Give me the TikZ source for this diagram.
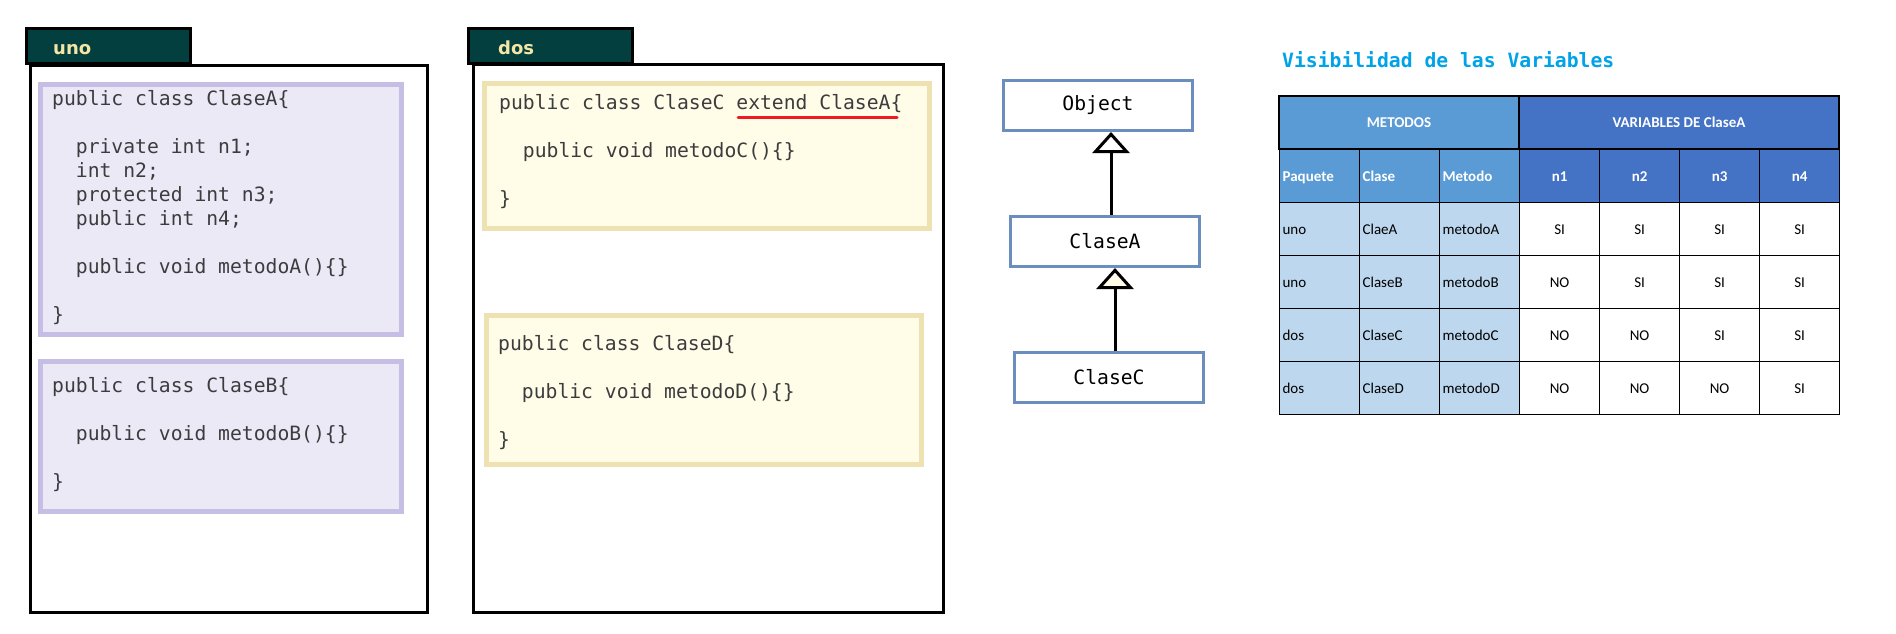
\documentclass[tikz,border=0pt]{standalone}
\usepackage{fontspec}
\usepackage{tikz}
\usetikzlibrary{calc}
\usetikzlibrary{matrix,arrows.meta}

\newfontfamily\codefont{DejaVu Sans Mono}
\newfontfamily\pkgfont{DejaVu Sans}
\newfontfamily\tabfont{Carlito}

\definecolor{tabteal}{RGB}{3,63,63}
\definecolor{tabtext}{RGB}{245,230,165}
\definecolor{lilaLine}{RGB}{198,190,228}
\definecolor{lilaFill}{RGB}{236,233,247}
\definecolor{cremaLine}{RGB}{238,226,178}
\definecolor{cremaFill}{RGB}{255,253,232}
\definecolor{codeGray}{RGB}{60,60,62}
\definecolor{umlBlue}{RGB}{108,142,191}
\definecolor{titleBlue}{RGB}{0,162,232}
\definecolor{metBlue}{RGB}{91,155,213}
\definecolor{varBlue}{RGB}{68,114,196}
\definecolor{cellBlue}{RGB}{189,215,238}
\definecolor{markRed}{RGB}{237,28,36}

\begin{document}
\begin{tikzpicture}[x=1pt,y=-1pt,
    pkgbox/.style={rectangle, draw=black, line width=3pt, fill=white, inner sep=0pt},
    pkgtab/.style={rectangle, draw=black, line width=3pt, fill=tabteal, minimum width=164pt, minimum height=35pt},
    pkglabel/.style={inner sep=0pt, text=tabtext, font=\pkgfont\bfseries\fontsize{18}{18}\selectfont},
    lilabox/.style={rectangle, draw=lilaLine, fill=lilaFill, line width=5pt},
    cremabox/.style={rectangle, draw=cremaLine, fill=cremaFill, line width=5pt},
    codetext/.style={inner sep=0pt, align=left, text=codeGray, font=\codefont\fontsize{19.7}{24}\selectfont},
    umlbox/.style={rectangle, draw=umlBlue, line width=3pt, fill=white, minimum width=189pt, minimum height=50pt, font=\codefont\fontsize{19.7}{24}\selectfont},
    inherit/.style={line width=3pt, -{Triangle[open, fill=white, length=21pt, width=37pt]}},
    cell/.style={rectangle, anchor=center, draw=black, line width=1.2pt, outer sep=0pt, minimum height=53pt,
      text height=10pt, text depth=0pt, font=\tabfont\fontsize{15}{18}\selectfont},
    leftcell/.style={cell, fill=cellBlue, text width=74pt, inner xsep=3pt, align=left},
    midcell/.style={cell, fill=white, minimum width=80pt, inner xsep=0pt},
    hdrL/.style={fill=metBlue, text=white, font=\tabfont\bfseries\fontsize{15}{18}\selectfont},
    hdrD/.style={fill=varBlue, text=white, font=\tabfont\bfseries\fontsize{15}{18}\selectfont}
    ]
  \path[use as bounding box, fill=white] (0,0) rectangle (1896,634);

  % package uno
  \node[pkgbox, minimum width=397pt, minimum height=547pt] (unoBox) at (229,339) {};
  \node[pkgtab] (unoTab) at (108.5,46) {};
  \node[pkglabel, anchor=base west] (unoLbl) at ($(unoTab.south west)+(28,-10)$) {uno};
  \node[lilabox, minimum width=361pt, minimum height=250pt] (claseA) at (221,209.5) {};
  \node[lilabox, minimum width=361pt, minimum height=150pt] (claseB) at (221,436.5) {};
  \node[codetext, anchor=north west] (claseAtxt) at ($(claseA.north west)+(14,6)$) {%
    \strut public class ClaseA\{\\[24pt]
    \phantom{xx}private int n1;\\
    \phantom{xx}int n2;\\
    \phantom{xx}protected int n3;\\
    \phantom{xx}public int n4;\\[24pt]
    \phantom{xx}public void metodoA()\{\}\\[24pt]
    \}};
  \node[codetext, anchor=north west] (claseBtxt) at ($(claseB.north west)+(14,16)$) {%
    \strut public class ClaseB\{\\[24pt]
    \phantom{xx}public void metodoB()\{\}\\[24pt]
    \}};

  % package dos
  \node[pkgbox, minimum width=470pt, minimum height=548pt] (dosBox) at (708.5,338.5) {};
  \node[pkgtab] (dosTab) at (550.5,46) {};
  \node[pkglabel, anchor=base west] (dosLbl) at ($(dosTab.south west)+(31,-10)$) {dos};
  \node[cremabox, minimum width=445pt, minimum height=145pt] (claseC) at (707,156) {};
  \node[cremabox, minimum width=435pt, minimum height=149pt] (claseD) at (704,390) {};
  \node[codetext, anchor=north west] (claseCtxt) at ($(claseC.north west)+(17,11)$) {%
    \strut public class ClaseC extend ClaseA\{\\[24pt]
    \phantom{xx}public void metodoC()\{\}\\[24pt]
    \}};
  \node[codetext, anchor=north west] (claseDtxt) at ($(claseD.north west)+(14,20)$) {%
    \strut public class ClaseD\{\\[24pt]
    \phantom{xx}public void metodoD()\{\}\\[24pt]
    \}};
  \draw[markRed, line width=3pt, line cap=round] (738,117) -- (897,117);

  % class hierarchy
  \node[umlbox] (umlObject) at (1098,105.5) {Object};
  \node[umlbox] (umlClaseA) at (1105,241.5) {ClaseA};
  \node[umlbox] (umlClaseC) at (1109,377.5) {ClaseC};
  \coordinate (inhA) at ([xshift=6pt]umlClaseA.north);
  \coordinate (inhC) at ([xshift=6pt]umlClaseC.north);
  % arrows
  \draw[inherit] (inhA) -- (inhA |- umlObject.south);
  \draw[inherit, -{Triangle[open, fill=cremaFill, length=21pt, width=37pt]}] (inhC) -- (inhC |- umlClaseA.south);

  % visibility table
  \node[anchor=base west, inner sep=0pt, text=titleBlue, font=\codefont\bfseries\fontsize{19.7}{24}\selectfont] (visTitle) at (1282,67) {Visibilidad de las Variables};
  \matrix (visTab) [matrix of nodes, anchor=north west, inner sep=0pt, outer sep=0pt,
      column sep=-1.2pt, row sep=-1.2pt,
      column 1/.style={nodes={leftcell}}, column 2/.style={nodes={leftcell}}, column 3/.style={nodes={leftcell}},
      column 4/.style={nodes={midcell}}, column 5/.style={nodes={midcell}},
      column 6/.style={nodes={midcell}}, column 7/.style={nodes={midcell}}] at (1279,149) {
    |[hdrL]| Paquete & |[hdrL]| Clase & |[hdrL]| Metodo & |[hdrD]| n1 & |[hdrD]| n2 & |[hdrD]| n3 & |[hdrD]| n4 \\
    uno & ClaeA & metodoA & SI & SI & SI & SI \\
    uno & ClaseB & metodoB & NO & SI & SI & SI \\
    dos & ClaseC & metodoC & NO & NO & SI & SI \\
    dos & ClaseD & metodoD & NO & NO & NO & SI \\
  };
  \node[cell, hdrL, minimum width=240pt, anchor=south west] (hdrMetodos) at (visTab.north west) {METODOS};
  \node[cell, hdrD, minimum width=320pt, anchor=south west] (hdrVariables) at (hdrMetodos.south east) {VARIABLES DE ClaseA};
\end{tikzpicture}
\end{document}
